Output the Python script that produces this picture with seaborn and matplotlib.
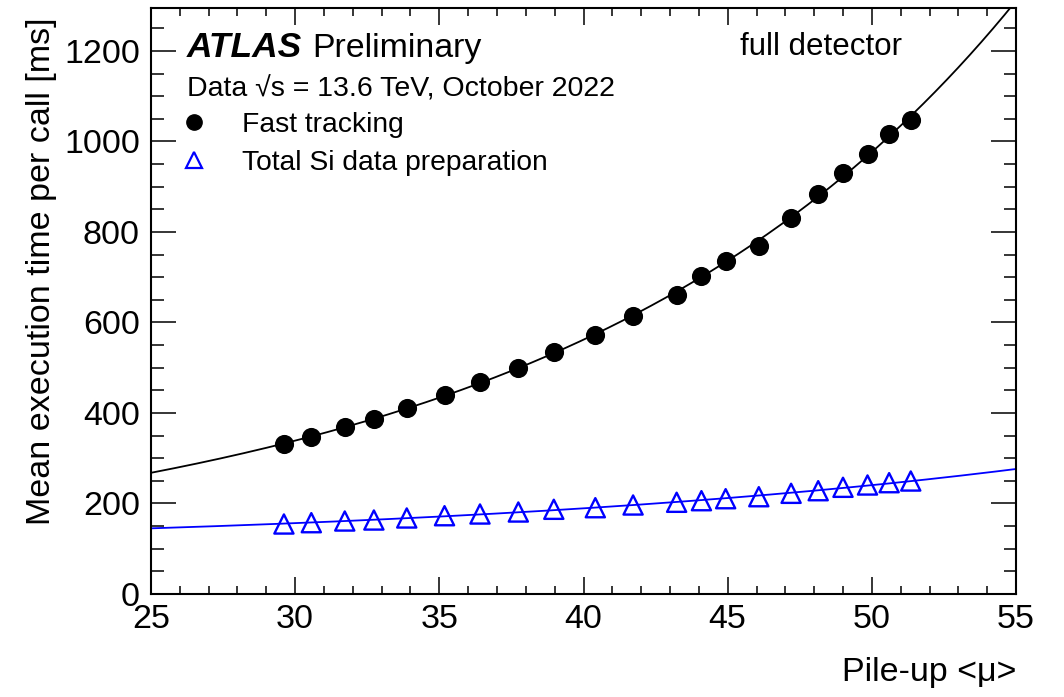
import numpy as np
import pandas as pd
import matplotlib
matplotlib.use("Agg")
import matplotlib.pyplot as plt
import seaborn as sns
from matplotlib.ticker import MultipleLocator
from matplotlib.lines import Line2D

# ---- data ----
pileup = [29.61, 30.56, 31.72, 32.73, 33.87, 35.18, 36.41, 37.74, 38.97, 40.41, 41.72,
          43.23, 44.09, 44.93, 46.08, 47.20, 48.14, 49.00, 49.85, 50.60, 51.35]
fast_tracking = [331.5, 347.6, 368.4, 386.7, 411.7, 439.8, 468.5, 499.4, 534.1, 573.0, 615.0,
                 661.4, 703.4, 736.6, 769.0, 830.3, 884.6, 930.4, 972.4, 1015.9, 1047.5]
si_dataprep = [154.7, 157.6, 161.3, 163.5, 168.0, 173.0, 176.8, 181.2, 187.2, 190.7, 196.7,
               202.7, 206.2, 210.6, 215.0, 222.5, 228.3, 235.8, 240.9, 246.0, 249.7]
labels = ["Fast tracking", "Total Si data preparation"]
x_range = (25, 55)
y_range = (0, 1295)

sns.set_theme(style="ticks")
plt.rcParams["font.family"] = ["Liberation Sans", "DejaVu Sans"]
plt.rcParams["axes.linewidth"] = 1.5
for k in ["text.color", "axes.labelcolor", "xtick.color", "ytick.color", "axes.edgecolor"]:
    plt.rcParams[k] = "black"

fig = plt.figure(figsize=(10.64, 6.97), dpi=100)
ax = fig.add_axes([151 / 1064, 1 - 594 / 697, 865 / 1064, 586 / 697])
ax.set_xlim(*x_range)
ax.set_ylim(*y_range)

df = pd.DataFrame({"mu": pileup, "fast": fast_tracking, "si": si_dataprep})

# fits (exp of quadratic) derived from the data
grid = np.linspace(x_range[0], x_range[1], 300)
fit_fast = np.exp(np.polyval(np.polyfit(df["mu"], np.log(df["fast"]), 2), grid))
fit_si = np.exp(np.polyval(np.polyfit(df["mu"], np.log(df["si"]), 2), grid))
sns.lineplot(x=grid, y=fit_fast, color="black", lw=1.3, ax=ax, zorder=2)
sns.lineplot(x=grid, y=fit_si, color="#0000ff", lw=1.3, ax=ax, zorder=2)

sns.scatterplot(data=df, x="mu", y="fast", marker="o", s=190, color="black",
                edgecolor="black", linewidth=0, ax=ax, zorder=3)
sns.scatterplot(data=df, x="mu", y="si", marker="^", s=190, facecolor="none",
                edgecolor="#0000ff", linewidth=1.7, ax=ax, zorder=3)

# axes styling (ROOT-like)
ax.xaxis.set_major_locator(MultipleLocator(5))
ax.xaxis.set_minor_locator(MultipleLocator(1))
ax.yaxis.set_major_locator(MultipleLocator(200))
ax.yaxis.set_minor_locator(MultipleLocator(50))
ax.tick_params(which="both", direction="in", top=True, right=True, width=1.1, colors="black")
ax.tick_params(axis="y", which="major", length=18, pad=8, labelsize=24.5)
ax.tick_params(axis="y", which="minor", length=9)
ax.tick_params(axis="x", which="major", length=12, pad=7, labelsize=24.5)
ax.tick_params(axis="x", which="minor", length=6)

ax.set_xlabel("Pile-up <μ>", fontsize=24.5, loc="right")
ax.set_ylabel("Mean execution time per call [ms]", fontsize=24.5, loc="top")
ax.xaxis.set_label_coords(1.0, -0.108)
ax.yaxis.set_label_coords(-0.109, 0.983)

# annotations
ax.text(0.0416, 0.917, "ATLAS", fontsize=25.5, fontweight="bold", fontstyle="italic",
        transform=ax.transAxes, va="baseline", ha="left")
ax.text(0.1861, 0.917, "Preliminary", fontsize=24.4, transform=ax.transAxes,
        va="baseline", ha="left")
ax.text(0.0416, 0.8487, "Data √s = 13.6 TeV, October 2022", fontsize=20.5,
        transform=ax.transAxes, va="baseline", ha="left")
ax.text(0.681, 0.9198, "full detector", fontsize=22.5, transform=ax.transAxes,
        va="baseline", ha="left")

handles = [
    Line2D([], [], marker="o", color="black", linestyle="none", markersize=11),
    Line2D([], [], marker="^", color="#0000ff", markerfacecolor="none",
           markeredgewidth=1.6, linestyle="none", markersize=11),
]
ax.legend(handles, labels, loc="upper left", bbox_to_anchor=(0.0333, 0.823),
          frameon=False, fontsize=20.3, handlelength=1.0, handletextpad=1.2,
          borderpad=0, borderaxespad=0, labelspacing=0.42)

fig.savefig("out.png", dpi=100)
